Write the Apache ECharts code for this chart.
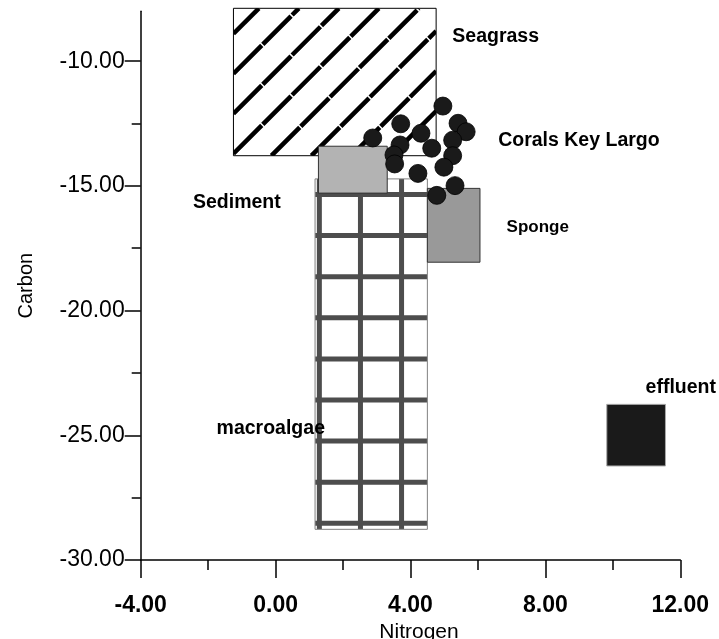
<!DOCTYPE html>
<html><head><meta charset="utf-8">
<script src="https://cdn.jsdelivr.net/npm/echarts@6/dist/echarts.min.js"></script>
<style>html,body{margin:0;padding:0;background:#fff}#c{width:719px;height:639px}</style>
</head><body><div id="c"></div>
<script>
// ---- data ----
const boxNames = ['Seagrass', 'macroalgae', 'Sediment', 'Sponge', 'effluent'];
const boxXMin = [-1.25, 1.17, 1.27, 4.50, 9.82];
const boxXMax = [4.76, 4.50, 3.31, 6.06, 11.56];
const boxYMin = [-13.79, -28.77, -15.29, -18.06, -26.23];
const boxYMax = [-7.88, -14.72, -13.41, -15.10, -23.76];

const coralNitrogen = [4.96, 3.71, 5.41, 5.65, 4.31, 2.88, 5.25, 3.69, 4.63, 3.51, 5.25, 3.53, 4.99, 4.22, 5.32, 4.78];
const coralCarbon = [-11.80, -12.51, -12.49, -12.83, -12.89, -13.08, -13.17, -13.36, -13.49, -13.76, -13.79, -14.12, -14.25, -14.50, -14.99, -15.38];

const labelNames = ['Seagrass', 'Corals Key Largo', 'Sediment', 'Sponge', 'macroalgae', 'effluent'];
const labelX = [5.24, 6.60, -2.45, 6.85, -1.75, 10.97];
const labelY = [-9.02, -13.17, -15.69, -16.65, -24.74, -23.10];

const xMajorTicks = [-4, 0, 4, 8, 12];
const xMinorTicks = [-2, 2, 6, 10];
const yMajorTicks = [-30, -25, -20, -15, -10];
const yMinorTicks = [-27.5, -22.5, -17.5, -12.5];

// ---- styles ----
const FONT = '"Liberation Sans", Arial, Helvetica, sans-serif';
const boxStyle = {
  Seagrass:   {fill: '#ffffff', stroke: '#000000', hatch: 'diag'},
  macroalgae: {fill: '#ffffff', stroke: '#808080', hatch: 'grid'},
  Sediment:   {fill: '#b3b3b3', stroke: '#333333'},
  Sponge:     {fill: '#999999', stroke: '#333333'},
  effluent:   {fill: '#1a1a1a', stroke: '#aaaaaa'}
};
const labelSize = {Sponge: 17};

const boxData = boxNames.map((n, i) => [boxXMin[i], boxXMax[i], boxYMin[i], boxYMax[i]]);
const coralData = coralNitrogen.map((x, i) => [x, coralCarbon[i]]);
const labelData = labelNames.map((n, i) => [labelX[i], labelY[i]]);

function renderBox(params, api) {
  const i = params.dataIndex;
  const p0 = api.coord([api.value(0), api.value(3)]);
  const p1 = api.coord([api.value(1), api.value(2)]);
  const L = p0[0], T = p0[1], R = p1[0], B = p1[1];
  const st = boxStyle[boxNames[i]];
  const children = [{type: 'rect', shape: {x: L, y: T, width: R - L, height: B - T}, style: {fill: st.fill}}];
  const inner = [];
  if (st.hatch === 'diag') {
    const step = 40;
    const k0 = L + B - 2;
    for (let k = k0 - step * Math.ceil((k0 - (L + T)) / step); k < R + B + step; k += step) {
      const x1 = Math.max(L, k - B), x2 = Math.min(R, k - T);
      if (x2 > x1) inner.push({type: 'line', shape: {x1: x1, y1: k - x1, x2: x2, y2: k - x2},
        style: {stroke: '#000', lineWidth: 4.5, lineDash: [40, 1.5]}});
    }
  } else if (st.hatch === 'grid') {
    const step = 41.1;
    for (let x = L + 4.3; x < R; x += step) {
      inner.push({type: 'line', shape: {x1: x, y1: T, x2: x, y2: B}, style: {stroke: '#4d4d4d', lineWidth: 5}});
    }
    for (let y = B - 6; y > T; y -= step) {
      inner.push({type: 'line', shape: {x1: L, y1: y, x2: R, y2: y}, style: {stroke: '#4d4d4d', lineWidth: 5}});
    }
  }
  if (inner.length) {
    children.push({type: 'group', children: inner,
      clipPath: {type: 'rect', shape: {x: L, y: T, width: R - L, height: B - T}}});
  }
  children.push({type: 'rect', shape: {x: L, y: T, width: R - L, height: B - T},
    style: {fill: 'none', stroke: st.stroke, lineWidth: 1}});
  return {type: 'group', children: children};
}

function renderLabel(params, api) {
  const i = params.dataIndex;
  const p = api.coord([api.value(0), api.value(1)]);
  const size = labelSize[labelNames[i]] || 19.5;
  return {type: 'text', x: p[0], y: p[1],
    style: {text: labelNames[i], font: 'bold ' + size + 'px ' + FONT, fill: '#000', align: 'left', verticalAlign: 'middle'}};
}

const gridRect = {left: 140.7, top: 11.3, width: 539.6, height: 548.7, containLabel: false, outerBoundsMode: 'none'};
const lineStyle = {color: '#000', width: 1.5};

const chart = echarts.init(document.getElementById('c'), null, {renderer: 'canvas'});
chart.setOption({
  animation: false,
  backgroundColor: '#fff',
  grid: [Object.assign({}, gridRect), Object.assign({}, gridRect)],
  xAxis: [
    {type: 'value', gridIndex: 0, min: -4, max: 12, interval: 4, position: 'bottom',
      axisLine: {show: true, onZero: false, lineStyle: lineStyle},
      axisTick: {show: true, length: 18, customValues: xMajorTicks, lineStyle: lineStyle},
      axisLabel: {customValues: xMajorTicks, formatter: v => Number(v).toFixed(2), fontFamily: FONT,
        fontSize: 23, fontWeight: 'bold', color: '#000', margin: 34},
      splitLine: {show: false},
      name: 'Nitrogen', nameLocation: 'middle', nameGap: 54,
      nameTextStyle: {fontSize: 21, color: '#000', fontFamily: FONT, padding: [0, 0, 0, 17]}},
    {type: 'value', gridIndex: 1, min: -4, max: 12, interval: 2, position: 'bottom',
      axisLine: {show: false, onZero: false},
      axisTick: {show: true, length: 10, customValues: xMinorTicks, lineStyle: lineStyle},
      axisLabel: {show: false}, splitLine: {show: false}}
  ],
  yAxis: [
    {type: 'value', gridIndex: 0, min: -30, max: -8, interval: 5, position: 'left',
      axisLine: {show: true, onZero: false, lineStyle: lineStyle},
      axisTick: {show: true, length: 16, customValues: yMajorTicks, lineStyle: lineStyle},
      axisLabel: {customValues: yMajorTicks, formatter: v => Number(v).toFixed(2), fontFamily: FONT,
        fontSize: 23, color: '#000', margin: 16},
      splitLine: {show: false},
      name: 'Carbon', nameLocation: 'middle', nameRotate: 90, nameGap: 104,
      nameTextStyle: {fontSize: 20, color: '#000', fontFamily: FONT}},
    {type: 'value', gridIndex: 1, min: -30, max: -8, interval: 2.5, position: 'left',
      axisLine: {show: false, onZero: false},
      axisTick: {show: true, length: 9, customValues: yMinorTicks, lineStyle: lineStyle},
      axisLabel: {show: false}, splitLine: {show: false}}
  ],
  series: [
    {type: 'custom', name: 'boxes', xAxisIndex: 0, yAxisIndex: 0, clip: false, silent: true,
      encode: {x: [0, 1], y: [2, 3]}, data: boxData, renderItem: renderBox, z: 2},
    {type: 'scatter', name: 'Corals Key Largo', xAxisIndex: 0, yAxisIndex: 0, symbol: 'circle', symbolSize: 18,
      itemStyle: {color: '#1a1a1a', borderColor: '#000', borderWidth: 0.8, opacity: 1},
      data: coralData, z: 3, silent: true},
    {type: 'custom', name: 'labels', xAxisIndex: 0, yAxisIndex: 0, clip: false, silent: true,
      encode: {x: 0, y: 1}, data: labelData, renderItem: renderLabel, z: 4}
  ]
});
</script></body></html>
